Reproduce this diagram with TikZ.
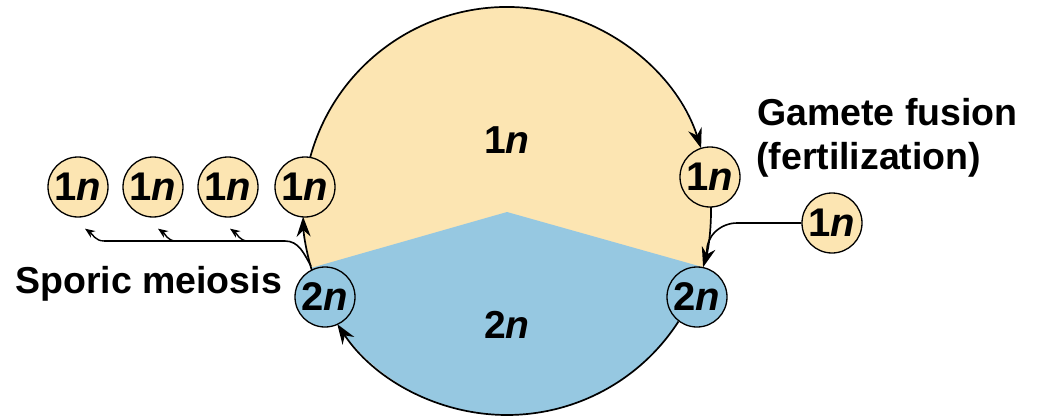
\documentclass[tikz,border=0pt]{standalone}
\usepackage{fontspec}
\setmainfont{Liberation Sans}
\usetikzlibrary{arrows.meta,calc}
\definecolor{hapc}{HTML}{FCE5B2}
\definecolor{dipc}{HTML}{96C8E1}
\tikzset{
  cell/.style={circle, draw=black, line width=1.3pt, minimum size=60pt, inner sep=0pt,
    font=\bfseries\fontsize{40}{40}\selectfont},
  hapcell/.style={cell, fill=hapc},
  dipcell/.style={cell, fill=dipc},
  lbl/.style={font=\bfseries\fontsize{37.5}{42}\selectfont, inner sep=0pt},
  midlbl/.style={font=\bfseries\fontsize{39}{39}\selectfont, inner sep=0pt},
  flow/.style={line width=1.7pt, -{Stealth[length=20pt,width=14pt]}},
  rim/.style={line width=1.6pt},
  twig/.style={line width=1.4pt, -{Stealth[length=10pt,width=8pt]}},
}
\begin{document}
\begin{tikzpicture}[x=1pt,y=1pt]
\useasboundingbox (0,0) rectangle (1042,-420);
\coordinate (C) at (507,-211);
\coordinate (apex) at (507,-212);
% big circle fills
\fill[hapc] (C) circle (204);
\fill[dipc] (apex) -- ($(C)+(196.2:204)$) arc[start angle=196.2, end angle=344, radius=204] -- cycle;
% rim arrows
\draw[flow] ($(C)+(164.8:204)$) arc[start angle=164.8, end angle=17.9, radius=204];
\draw[flow] ($(C)+(1.1:204)$) arc[start angle=1.1, end angle=-16, radius=204];
\draw[flow] ($(C)+(-32.8:204)$) arc[start angle=-32.8, end angle=-146.3, radius=204];
\draw[flow] ($(C)+(196.9:204)$) arc[start angle=196.9, end angle=181.6, radius=204];
% cells
\node[hapcell] (a1) at (78,-187) {1\textit{n}};
\node[hapcell] (a2) at (153,-187) {1\textit{n}};
\node[hapcell] (a3) at (228,-187) {1\textit{n}};
\node[hapcell] (a4) at (305,-187) {1\textit{n}};
\node[hapcell] (r1) at (710,-177) {1\textit{n}};
\node[hapcell] (f1) at (832,-223) {1\textit{n}};
\node[dipcell] (dl) at (325,-297) {2\textit{n}};
\node[dipcell] (dr) at (697,-297) {2\textit{n}};
% sporic meiosis branches
\coordinate (bs) at (311,-266);
\coordinate (h0) at (285,-241);
\coordinate (h1) at (104,-241);
\coordinate (h2) at (176,-241);
\coordinate (h3) at (248,-241);
\draw[rim] (bs) to[out=120,in=0] (h0) -- (h1);
\draw[twig] (h1) to[out=180,in=-35] ($(a1.south)+(7,-11)$);
\draw[twig] (h2) to[out=180,in=-35] ($(a2.south)+(5,-11)$);
\draw[twig] (h3) to[out=180,in=-35] ($(a3.south)+(2,-11)$);
% gamete joining
\coordinate (g0) at (737,-223);
\coordinate (gj) at (707,-253);
\draw[rim] (f1.west) -- (g0) to[out=180,in=95] (gj);
% labels
\node[midlbl] (hl) at (507,-140) {1\textit{n}};
\node[midlbl] (dlab) at (507,-325) {2\textit{n}};
\node[lbl, anchor=base west] (sm) at (15,-293) {Sporic meiosis};
\node[lbl, anchor=base west] (gf) at (757,-125) {Gamete fusion};
\node[lbl, anchor=base west] (fz) at (756,-169) {(fertilization)};
\end{tikzpicture}
\end{document}
